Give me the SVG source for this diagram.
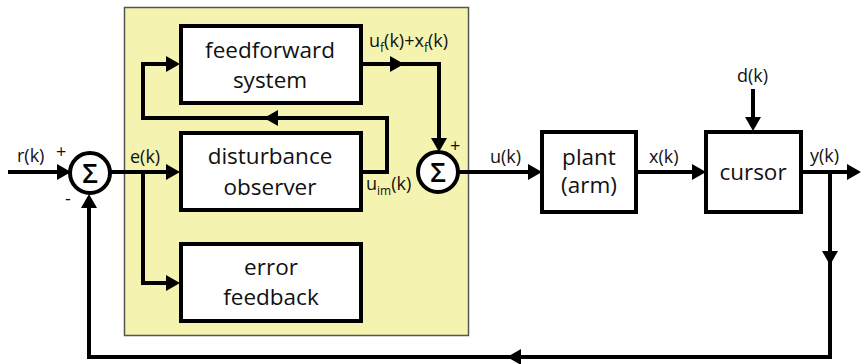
<svg xmlns="http://www.w3.org/2000/svg" width="861" height="364" viewBox="0 0 861 364">
<defs>
<style>
.box{fill:#fff;stroke:#000;stroke-width:4}
.sum{fill:#fff;stroke:#000;stroke-width:4}
.ln{fill:none;stroke:#000;stroke-width:4;stroke-linejoin:miter}
.ah{fill:#000}
.t{font-family:"Open Sans","Liberation Sans",sans-serif;font-size:22.5px;fill:#111;text-anchor:middle}
.l{font-family:"Open Sans","Liberation Sans",sans-serif;font-size:18px;fill:#111}
.s{font-size:12px}
.sig{font-family:"Open Sans","Liberation Sans",sans-serif;font-size:27px;font-weight:600;fill:#000;text-anchor:middle}
</style>
</defs>
<rect id="panel" x="124.5" y="7.5" width="344" height="328" fill="#f5f3b0" stroke="#555" stroke-width="1.5"/>
<g id="connectors">
<path class="ln" d="M8 172 H60"/>
<path class="ah" d="M71 172 L57 164 L57 180 Z"/>
<path class="ln" d="M110 172 H168"/>
<path class="ah" d="M180 172 L166 164 L166 180 Z"/>
<path class="ln" d="M143 172 V283 H168"/>
<path class="ah" d="M180 283 L166 275 L166 291 Z"/>
<path class="ln" d="M361 172 H387 V118 H143 V64 H168"/>
<path class="ah" d="M264 118 L278 110 L278 126 Z"/>
<path class="ah" d="M180 64 L166 56 L166 72 Z"/>
<path class="ln" d="M361 64 H439 V140"/>
<path class="ah" d="M404 64 L390 56 L390 72 Z"/>
<path class="ah" d="M439 152 L431 138 L447 138 Z"/>
<path class="ln" d="M458 172 H530"/>
<path class="ah" d="M542 172 L528 164 L528 180 Z"/>
<path class="ln" d="M636 172 H694"/>
<path class="ah" d="M706 172 L692 164 L692 180 Z"/>
<path class="ln" d="M753 89 V119"/>
<path class="ah" d="M753 131 L745 117 L761 117 Z"/>
<path class="ln" d="M801 172 H849"/>
<path class="ah" d="M861 172 L847 164 L847 180 Z"/>
<path class="ln" d="M830 172 V357 H89 V206"/>
<path class="ah" d="M830 265 L822 251 L838 251 Z"/>
<path class="ah" d="M507 357 L521 349 L521 365 Z"/>
<path class="ah" d="M89 194 L81 208 L97 208 Z"/>
</g>
<g id="sum1">
<circle class="sum" cx="90" cy="173" r="20"/>
<text class="sig" x="90" y="183">Σ</text>
</g>
<g id="sum2">
<circle class="sum" cx="438" cy="172" r="20"/>
<text class="sig" x="438" y="182">Σ</text>
</g>
<g id="feedforward">
<rect class="box" x="181" y="26" width="180" height="77"/>
<text class="t" x="270" y="58">feedforward</text>
<text class="t" x="270" y="88">system</text>
</g>
<g id="observer">
<rect class="box" x="181" y="133" width="180" height="77"/>
<text class="t" x="270" y="164">disturbance</text>
<text class="t" x="270" y="195">observer</text>
</g>
<g id="errorfb">
<rect class="box" x="181" y="244" width="180" height="77"/>
<text class="t" x="271" y="275">error</text>
<text class="t" x="271" y="305">feedback</text>
</g>
<g id="plant">
<rect class="box" x="542" y="132" width="94" height="80"/>
<text class="t" x="589" y="165">plant</text>
<text class="t" x="589" y="193">(arm)</text>
</g>
<g id="cursor">
<rect class="box" x="706" y="132" width="95" height="80"/>
<text class="t" x="753" y="180">cursor</text>
</g>
<g id="labels">
<text class="l" x="17" y="162">r(k)</text>
<text class="l" x="56" y="158">+</text>
<text class="l" x="65" y="205">-</text>
<text class="l" x="130" y="163">e(k)</text>
<text class="l" x="369" y="47">u<tspan class="s" dy="5">f</tspan><tspan dy="-5">(k)+x</tspan><tspan class="s" dy="5">f</tspan><tspan dy="-5">(k)</tspan></text>
<text class="l" x="366" y="190">u<tspan class="s" dy="5">im</tspan><tspan dy="-5">(k)</tspan></text>
<text class="l" x="450" y="152">+</text>
<text class="l" x="490" y="163">u(k)</text>
<text class="l" x="649" y="163">x(k)</text>
<text class="l" x="737" y="82">d(k)</text>
<text class="l" x="810" y="162">y(k)</text>
</g>
</svg>
